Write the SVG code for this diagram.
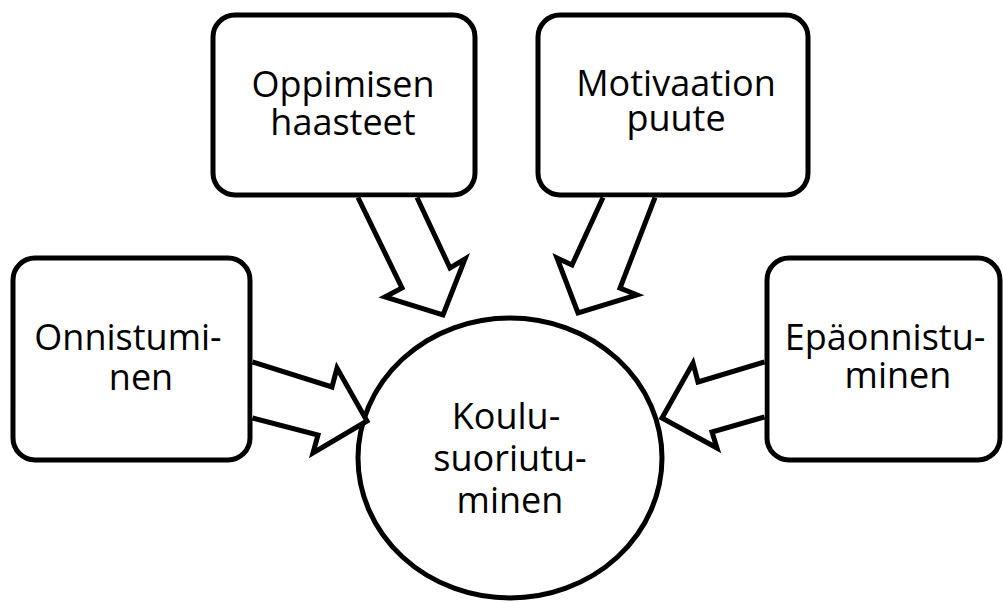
<svg xmlns="http://www.w3.org/2000/svg" width="1003" height="603" viewBox="0 0 1003 603">
  <style>
    .box { fill: #ffffff; stroke: #000000; stroke-width: 5; }
    .hub { fill: #ffffff; stroke: #000000; stroke-width: 5; }
    .flow { fill: #ffffff; stroke: #000000; stroke-width: 5; stroke-linejoin: miter; stroke-miterlimit: 10; }
    .label { font-family: "Open Sans", "Noto Sans", "Liberation Sans", sans-serif; font-size: 36px; fill: #000000; text-anchor: middle; }
  </style>
  <rect width="1003" height="603" fill="#ffffff"/>

  <!-- central node -->
  <g id="node-koulusuoriutuminen">
    <ellipse class="hub" cx="510" cy="458" rx="152" ry="140"/>
    <text class="label" x="506" y="429">Koulu-</text>
    <text class="label" x="510" y="471">suoriutu-</text>
    <text class="label" x="510" y="513">minen</text>
  </g>

  <!-- influencing factors -->
  <g id="node-oppimisen-haasteet">
    <rect class="box" x="213" y="15" width="262" height="180" rx="22" ry="22"/>
    <text class="label" x="343" y="97">Oppimisen</text>
    <text class="label" x="343" y="135">haasteet</text>
  </g>

  <g id="node-motivaation-puute">
    <rect class="box" x="538" y="15" width="270" height="180" rx="22" ry="22"/>
    <text class="label" x="676" y="96">Motivaation</text>
    <text class="label" x="676" y="131">puute</text>
  </g>

  <g id="node-onnistuminen">
    <rect class="box" x="13" y="258" width="237" height="202" rx="22" ry="22"/>
    <text class="label" x="128" y="350">Onnistumi-</text>
    <text class="label" x="141" y="390">nen</text>
  </g>

  <g id="node-epaonnistuminen">
    <rect class="box" x="767" y="258" width="233" height="202" rx="22" ry="22"/>
    <text class="label" x="885" y="350">Epäonnistu-</text>
    <text class="label" x="898" y="388">minen</text>
  </g>

  <!-- block arrows pointing into the central node -->
  <g id="connectors">
    <path class="flow" d="M358,197.5 L402,288 L385,297 L443,315 L465,259 L450,268 L417,197.5"/>
    <path class="flow" d="M603,197.5 L572,265 L557,258 L578,313 L637,295 L620,288 L655,197.5"/>
    <path class="flow" d="M252.5,362 L332,387 L337,368 L367,421 L313,453 L318,435 L252.5,418"/>
    <path class="flow" d="M764.5,362 L698,382 L693,363 L662,418 L717,448 L712,432 L764.5,417"/>
  </g>
</svg>
